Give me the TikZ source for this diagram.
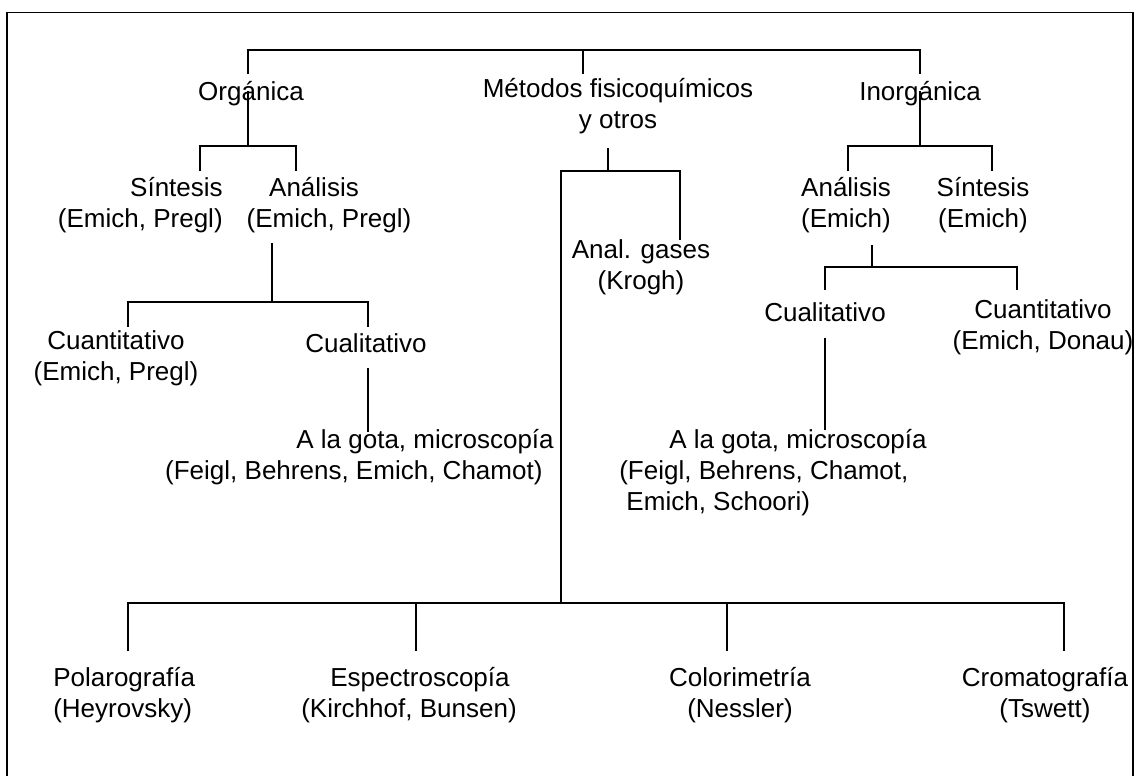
\documentclass[tikz,border=0pt]{standalone}
\usepackage{fontspec}
\setmainfont{Liberation Sans}

\begin{document}
\begin{tikzpicture}[
    x=0.025cm, y=-0.025cm,
    lbl/.style={
        inner sep=0pt,
        align=center,
        anchor=north,
        font=\fontsize{18.5pt}{22pt}\selectfont,
        execute at begin node=\strut
    },
    link/.style={line width=1.3pt, color=black},
    boxline/.style={line width=1.3pt, color=black}
]
\useasboundingbox (0,0) rectangle (1136,776);
\draw[boxline] (7,776) -- (7,12.5) -- (1133,12.5) -- (1133,776);

% first level
\node[lbl] (org) at (251,78.5) {Orgánica};
\node[lbl] (met) at (618,78.5) {Métodos fisicoquímicos\\y otros};
\node[lbl] (ino) at (920,78.5) {Inorgánica};

% second level
\node[lbl, align=right, anchor=north east] (sinO) at (223,177.5) {Síntesis\\(Emich, Pregl)};
\node[lbl] (anaO) at (329,177.5) {Análisis\hspace*{0.75cm}\\(Emich, Pregl)};
\node[lbl] (gas) at (641,239.5) {Anal. gases\\(Krogh)};
\node[lbl] (anaI) at (846,177.5) {Análisis\\(Emich)};
\node[lbl] (sinI) at (983,177.5) {Síntesis\\(Emich)};

% third level
\node[lbl] (cuanO) at (116,330.5) {Cuantitativo\\(Emich, Pregl)};
\node[lbl] (cualO) at (366,330.5) {Cualitativo};
\node[lbl] (cualI) at (825,299.5) {Cualitativo};
\node[lbl] (cuanI) at (1043,299.5) {Cuantitativo\\(Emich, Donau)};

% drop tests
\node[lbl, align=right, anchor=north east] (gotaO) at (554,429.5) {A la gota, microscopía\\(Feigl, Behrens, Emich, Chamot)\hspace*{0.28cm}};
\node[lbl, align=left, anchor=north west] (gotaI) at (619,429.5) {\hspace*{1.25cm}A la gota, microscopía\\(Feigl, Behrens, Chamot,\\\hspace*{0.18cm}Emich, Schoori)};

% physico-chemical methods
\node[lbl, align=left, anchor=north west] (pol) at (53,667.5) {Polarografía\\(Heyrovsky)};
\node[lbl] (esp) at (409,667.5) {\hspace*{0.55cm}Espectroscopía\\(Kirchhof, Bunsen)};
\node[lbl] (col) at (740,667.5) {Colorimetría\\(Nessler)};
\node[lbl] (cro) at (1045,667.5) {Cromatografía\\(Tswett)};

% top bracket
\coordinate (topL) at (248,50);
\coordinate (topM) at (583,50);
\coordinate (topR) at (920,50);
\draw[link, shorten <=3.2pt, shorten >=3.2pt] (topL |- org.north) -- (topL) -- (topR) -- (topR |- ino.north);
\draw[link, shorten >=3.2pt] (topM) -- (topM |- met.north);

% Organica
\coordinate (orgL) at (200,146);
\coordinate (orgR) at (296,146);
\draw[link, shorten <=-2pt] (topL |- org.center) -- (topL |- orgL);
\draw[link, shorten <=4.6pt, shorten >=4.6pt] (orgL |- sinO.north) -- (orgL) -- (orgR) -- (orgR |- anaO.north);

\coordinate (anaOj) at (272,302);
\coordinate (anaOL) at (128,302);
\coordinate (anaOR) at (368,302);
\draw[link, shorten <=3.9pt] (anaOj |- anaO.south) -- (anaOj);
\draw[link, shorten <=2.5pt, shorten >=2.5pt] (anaOL |- cuanO.north) -- (anaOL) -- (anaOR) -- (anaOR |- cualO.north);
\draw[link, shorten <=4.2pt, shorten >=-1.5pt] (anaOR |- cualO.south) -- (anaOR |- gotaO.north);

% Metodos
\coordinate (metj) at (608,171);
\coordinate (metL) at (561,171);
\coordinate (metR) at (680,171);
\coordinate (b1) at (128,603);
\coordinate (b2) at (416,603);
\coordinate (b3) at (727,603);
\coordinate (b4) at (1064,603);
\draw[link, shorten <=6.8pt] (metj |- met.south) -- (metj);
\draw[link] (metR |- gas.north) -- (metR) -- (metL) -- (metL |- b1);
\draw[link, shorten <=11.7pt, shorten >=11.7pt] (b1 |- pol.north) -- (b1) -- (b4) -- (b4 |- cro.north);
\draw[link, shorten >=11.7pt] (b2) -- (b2 |- esp.north);
\draw[link, shorten >=11.7pt] (b3) -- (b3 |- col.north);

% Inorganica
\coordinate (inoL) at (848,146);
\coordinate (inoR) at (992,146);
\draw[link, shorten <=-2pt] (topR |- ino.center) -- (topR |- inoL);
\draw[link, shorten <=4.6pt, shorten >=4.6pt] (inoL |- anaI.north) -- (inoL) -- (inoR) -- (inoR |- sinI.north);

\coordinate (anaIj) at (872,267);
\coordinate (anaIL) at (825,267);
\coordinate (anaIR) at (1017,267);
\draw[link, shorten <=5.4pt] (anaIj |- anaI.south) -- (anaIj);
\draw[link, shorten <=6.8pt, shorten >=6.8pt] (anaIL |- cualI.north) -- (anaIL) -- (anaIR) -- (anaIR |- cuanI.north);
\draw[link, shorten <=4.8pt] (anaIL |- cualI.south) -- (anaIL |- gotaI.north);

\end{tikzpicture}
\end{document}
